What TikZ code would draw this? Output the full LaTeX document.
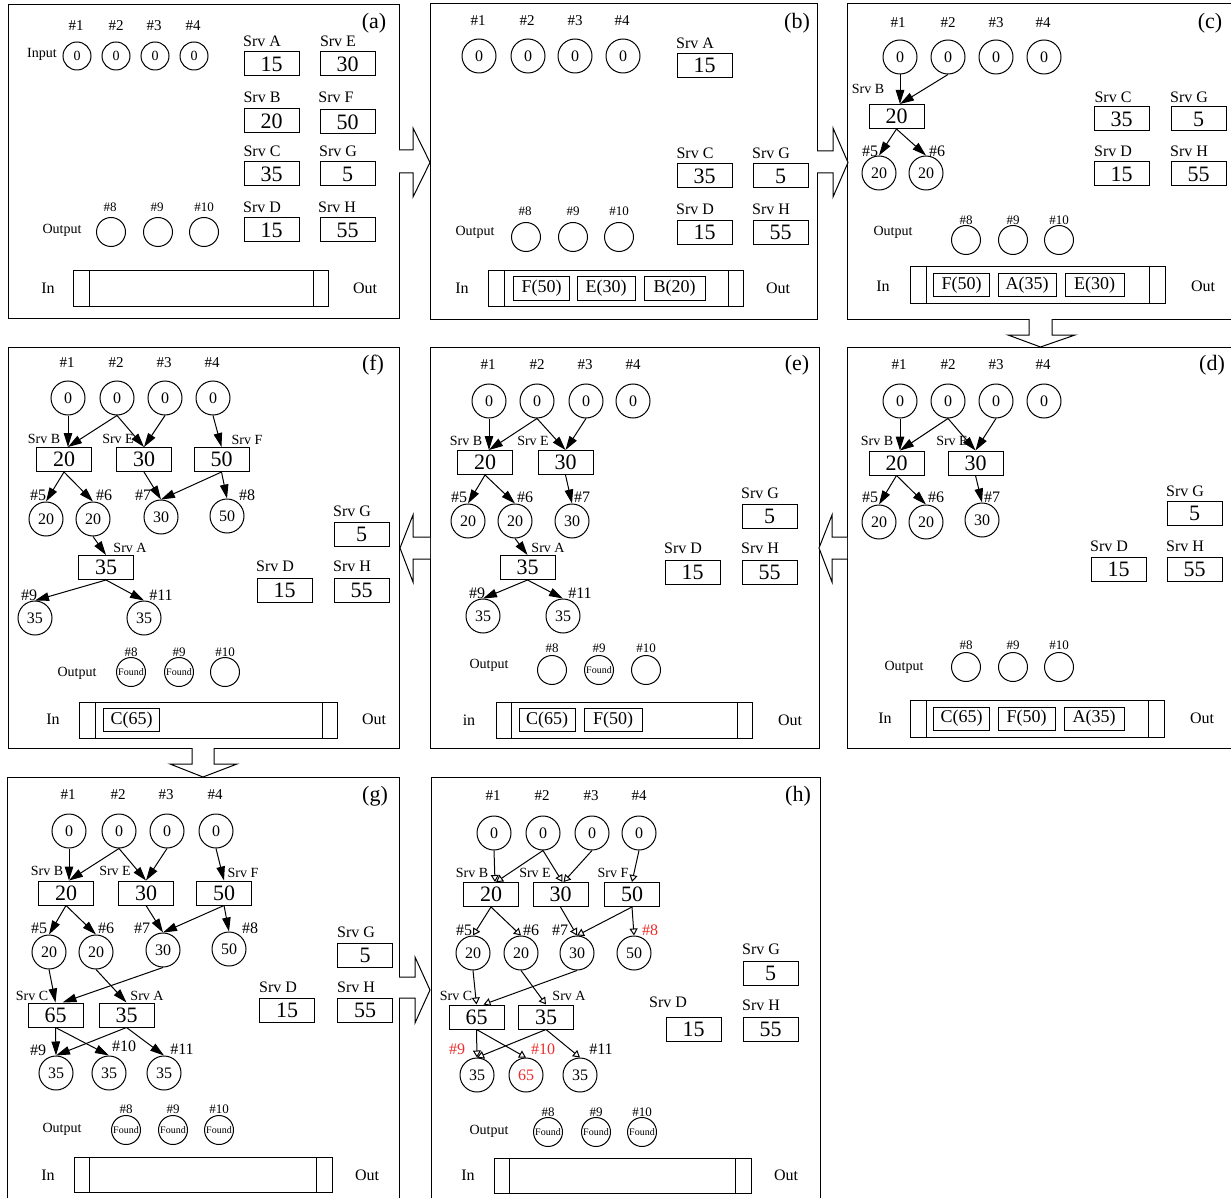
\documentclass[tikz,border=0pt]{standalone}
\usepackage{fontspec}
\setmainfont{Liberation Serif}
\usetikzlibrary{arrows.meta}
\newcommand{\fs}[1]{\fontsize{#1}{#1}\selectfont}
\definecolor{hitred}{HTML}{EE2C2C}

\begin{document}
\begin{tikzpicture}[x=1pt, y=-1pt,
    frame/.style={draw, line width=1pt},
    srv/.style={draw, line width=1pt, minimum width=55pt, minimum height=24pt, inner sep=0pt, font=\fs{22}},
    job/.style={draw, line width=1pt, minimum width=56pt, minimum height=23pt, inner sep=0pt, font=\fs{18}},
    inc/.style={draw, circle, line width=1pt, minimum size=34pt, inner sep=0pt, font=\fs{16}},
    smc/.style={draw, circle, line width=1pt, minimum size=28pt, inner sep=0pt, font=\fs{14}},
    outc/.style={draw, circle, line width=1pt, minimum size=29pt, inner sep=0pt, font=\fs{10}},
    num/.style={inner sep=0pt, font=\fs{15}},
    tnum/.style={inner sep=0pt, font=\fs{16}},
    onum/.style={inner sep=0pt, font=\fs{13}},
    srvl/.style={inner sep=0pt, font=\fs{16}},
    trl/.style={inner sep=0pt, font=\fs{14}},
    txt/.style={inner sep=0pt, font=\fs{14}},
    io/.style={inner sep=0pt, font=\fs{16}},
    tag/.style={inner sep=0pt, font=\fs{22}},
    arr/.style={-{Triangle[length=14pt, width=8.5pt]}, line width=1pt},
    harr/.style={-{Triangle[open, length=7pt, width=8pt]}, line width=1pt},
    bigarr/.style={draw, line width=1pt, fill=white}
  ]
    \fill[white] (0,0) rectangle (1231,1198);
    \useasboundingbox (0,0) rectangle (1231,1198);

    % (a) initial state
    \draw[frame] (8,5) rectangle (399,318);
    \node[tag] (atag) at (374,23) {(a)};
    \node[txt] (aInput) at (42,54) {Input};
    \node[num] (a1l) at (76,26) {\#1};  \node[num] (a2l) at (116,26) {\#2};
    \node[num] (a3l) at (154,26) {\#3}; \node[num] (a4l) at (193,26) {\#4};
    \node[smc] (a1) at (77,56) {0};  \node[smc] (a2) at (116,56) {0};
    \node[smc] (a3) at (155,56) {0}; \node[smc] (a4) at (194,56) {0};
    \node[srvl] (aAl) at (262,41) {Srv A};  \node[srv] (aA) at (271.5,64) {15};
    \node[srvl] (aEl) at (338,41) {Srv E};  \node[srv] (aE) at (347.5,64) {30};
    \node[srvl] (aBl) at (262,97) {Srv B};  \node[srv] (aB) at (271.5,121) {20};
    \node[srvl] (aFl) at (336,97) {Srv F};  \node[srv] (aF) at (347.5,122) {50};
    \node[srvl] (aCl) at (262,151) {Srv C}; \node[srv] (aC) at (271.5,174) {35};
    \node[srvl] (aGl) at (338,151) {Srv G}; \node[srv] (aG) at (347.5,174) {5};
    \node[srvl] (aDl) at (262,207) {Srv D}; \node[srv] (aD) at (271.5,230) {15};
    \node[srvl] (aHl) at (337,207) {Srv H}; \node[srv] (aH) at (347.5,230) {55};
    \node[txt] (aOutput) at (62,230) {Output};
    \node[onum] (a8l) at (110,207) {\#8};   \node[outc] (a8) at (111,232) {};
    \node[onum] (a9l) at (157,207) {\#9};   \node[outc] (a9) at (158,232) {};
    \node[onum] (a10l) at (204,207) {\#10}; \node[outc] (a10) at (204,232) {};
    \draw[frame] (73,271) rectangle (328,306);
    \draw[frame] (89,271) -- (89,306); \draw[frame] (313,271) -- (313,306);
    \node[io] (aIn) at (48,288) {In}; \node[io] (aOut) at (365,288) {Out};

    % (b)
    \draw[frame] (430,4) rectangle (817,319);
    \node[tag] (btag) at (797,23) {(b)};
    \node[num] (b1l) at (478,21) {\#1}; \node[num] (b2l) at (527,21) {\#2};
    \node[num] (b3l) at (575,21) {\#3}; \node[num] (b4l) at (622,21) {\#4};
    \node[inc] (b1) at (479,56) {0}; \node[inc] (b2) at (528,56) {0};
    \node[inc] (b3) at (575,56) {0}; \node[inc] (b4) at (623,56) {0};
    \node[srvl] (bAl) at (695,43) {Srv A};  \node[srv] (bA) at (704.5,65.5) {15};
    \node[srvl] (bCl) at (695,153) {Srv C}; \node[srv] (bC) at (704.5,176) {35};
    \node[srvl] (bGl) at (771,153) {Srv G}; \node[srv] (bG) at (780.5,176) {5};
    \node[srvl] (bDl) at (695,209) {Srv D}; \node[srv] (bD) at (704.5,232.5) {15};
    \node[srvl] (bHl) at (771,209) {Srv H}; \node[srv] (bH) at (780.5,232.5) {55};
    \node[txt] (bOutput) at (475,232) {Output};
    \node[onum] (b8l) at (525,211) {\#8};   \node[outc] (b8) at (526,237) {};
    \node[onum] (b9l) at (573,211) {\#9};   \node[outc] (b9) at (573,237) {};
    \node[onum] (b10l) at (619,211) {\#10}; \node[outc] (b10) at (619,237) {};
    \draw[frame] (488,271) rectangle (743,306);
    \draw[frame] (504,271) -- (504,306); \draw[frame] (728,271) -- (728,306);
    \node[job] (bqF) at (541.5,288.5) {F(50)};
    \node[job, minimum width=58pt] (bqE) at (606,288.5) {E(30)};
    \node[job, minimum width=61pt] (bqB) at (674.5,288.5) {B(20)};
    \node[io] (bIn) at (462,288) {In}; \node[io] (bOut) at (778,288) {Out};

    % (c)
    \draw[frame] (847,4) rectangle (1233,319);
    \node[tag] (ctag) at (1210,23) {(c)};
    \node[num] (c1l) at (898,23) {\#1}; \node[num] (c2l) at (948,23) {\#2};
    \node[num] (c3l) at (996,23) {\#3}; \node[num] (c4l) at (1043,23) {\#4};
    \node[inc] (c1) at (900,57) {0}; \node[inc] (c2) at (948,57) {0};
    \node[inc] (c3) at (996,57) {0}; \node[inc] (c4) at (1044,57) {0};
    \node[trl] (cBl) at (868,89) {Srv B}; \node[srv] (cB) at (896.5,116.5) {20};
    \node[tnum] (c5l) at (870,151) {\#5}; \node[inc] (c5) at (879,173) {20};
    \node[tnum] (c6l) at (937,151) {\#6}; \node[inc] (c6) at (926,173) {20};
    \draw[arr] (c1.south) -- (c1 |- cB.north);
    \draw[arr] (c2.south) -- (c1 |- cB.north);
    \draw[arr] (cB.south) -- (c5.north);
    \draw[arr] (cB.south) -- (c6.north);
    \node[srvl] (cCl) at (1113,97) {Srv C};  \node[srv] (cC) at (1121.5,119) {35};
    \node[srvl] (cGl) at (1189,97) {Srv G};  \node[srv] (cG) at (1198.5,119) {5};
    \node[srvl] (cDl) at (1113,151) {Srv D}; \node[srv] (cD) at (1121.5,174) {15};
    \node[srvl] (cHl) at (1189,151) {Srv H}; \node[srv] (cH) at (1198.5,174) {55};
    \node[txt] (cOutput) at (893,232) {Output};
    \node[onum] (c8l) at (966,220) {\#8};    \node[outc] (c8) at (966,240) {};
    \node[onum] (c9l) at (1013,220) {\#9};   \node[outc] (c9) at (1013,240) {};
    \node[onum] (c10l) at (1059,220) {\#10}; \node[outc] (c10) at (1059,240) {};
    \draw[frame] (910,267) rectangle (1165,303);
    \draw[frame] (926,267) -- (926,303); \draw[frame] (1149,267) -- (1149,303);
    \node[job] (cqF) at (961.5,285) {F(50)};
    \node[job, minimum width=58pt] (cqA) at (1027,285) {A(35)};
    \node[job, minimum width=59pt] (cqE) at (1094.5,285) {E(30)};
    \node[io] (cIn) at (883,286) {In}; \node[io] (cOut) at (1203,286) {Out};

    % (d)
    \draw[frame] (847,347) rectangle (1233,748);
    \node[tag] (dtag) at (1212,365) {(d)};
    \node[num] (d1l) at (899,365) {\#1}; \node[num] (d2l) at (948,365) {\#2};
    \node[num] (d3l) at (996,365) {\#3}; \node[num] (d4l) at (1043,365) {\#4};
    \node[inc] (d1) at (900,401) {0}; \node[inc] (d2) at (948,401) {0};
    \node[inc] (d3) at (996,401) {0}; \node[inc] (d4) at (1044,401) {0};
    \node[trl] (dBl) at (877,441) {Srv B}; \node[srv] (dB) at (896.5,463) {20};
    \node[trl] (dEl) at (952,441) {Srv E}; \node[srv] (dE) at (975.5,463) {30};
    \node[tnum] (d5l) at (870,497) {\#5}; \node[inc] (d5) at (879,522) {20};
    \node[tnum] (d6l) at (936,497) {\#6}; \node[inc] (d6) at (926,522) {20};
    \node[tnum] (d7l) at (992,497) {\#7}; \node[inc] (d7) at (982,520) {30};
    \draw[arr] (d1.south) -- (d1 |- dB.north);
    \draw[arr] (d2.south) -- (d1 |- dB.north);
    \draw[arr] (d2.south) -- (dE.north);
    \draw[arr] (d3.south) -- (dE.north);
    \draw[arr] (dB.south) -- (d5.north);
    \draw[arr] (dB.south) -- (d6.north);
    \draw[arr] (dE.south) -- (d7.north);
    \node[srvl] (dGl) at (1185,491) {Srv G}; \node[srv] (dG) at (1194.5,513) {5};
    \node[srvl] (dDl) at (1109,546) {Srv D}; \node[srv] (dD) at (1118.5,569) {15};
    \node[srvl] (dHl) at (1185,546) {Srv H}; \node[srv] (dH) at (1194.5,569) {55};
    \node[txt] (dOutput) at (904,667) {Output};
    \node[onum] (d8l) at (966,645) {\#8};    \node[outc] (d8) at (966,667) {};
    \node[onum] (d9l) at (1013,645) {\#9};   \node[outc] (d9) at (1013,667) {};
    \node[onum] (d10l) at (1059,645) {\#10}; \node[outc] (d10) at (1059,667) {};
    \draw[frame] (910,700) rectangle (1164,737);
    \draw[frame] (926,700) -- (926,737); \draw[frame] (1148,700) -- (1148,737);
    \node[job] (dqC) at (961.5,718.5) {C(65)};
    \node[job, minimum width=57pt] (dqF) at (1026.5,718.5) {F(50)};
    \node[job, minimum width=60pt] (dqA) at (1094,718.5) {A(35)};
    \node[io] (dIn) at (885,718) {In}; \node[io] (dOut) at (1202,718) {Out};

    % (e)
    \draw[frame] (430,347) rectangle (819,748);
    \node[tag] (etag) at (797,365) {(e)};
    \node[num] (e1l) at (488,365) {\#1}; \node[num] (e2l) at (537,365) {\#2};
    \node[num] (e3l) at (585,365) {\#3}; \node[num] (e4l) at (633,365) {\#4};
    \node[inc] (e1) at (489,401) {0}; \node[inc] (e2) at (537,401) {0};
    \node[inc] (e3) at (586,401) {0}; \node[inc] (e4) at (633,401) {0};
    \node[trl] (eBl) at (466,441) {Srv B}; \node[srv] (eB) at (485,462.5) {20};
    \node[trl] (eEl) at (533,441) {Srv E}; \node[srv] (eE) at (565.5,462.5) {30};
    \node[tnum] (e5l) at (459,497) {\#5}; \node[inc] (e5) at (468,521) {20};
    \node[tnum] (e6l) at (525,497) {\#6}; \node[inc] (e6) at (515,521) {20};
    \node[tnum] (e7l) at (582,497) {\#7}; \node[inc] (e7) at (572,521) {30};
    \node[trl] (eAl) at (548,548) {Srv A}; \node[srv] (eA) at (527.5,567.5) {35};
    \node[tnum] (e9l) at (477,593) {\#9};   \node[inc] (e9) at (483,616) {35};
    \node[tnum] (e11l) at (580,593) {\#11}; \node[inc] (e11) at (563,616) {35};
    \draw[arr] (e1.south) -- (e1 |- eB.north);
    \draw[arr] (e2.south) -- (e1 |- eB.north);
    \draw[arr] (e2.south) -- (eE.north);
    \draw[arr] (e3.south) -- (eE.north);
    \draw[arr] (eB.south) -- (e5.north);
    \draw[arr] (eB.south) -- (e6.north);
    \draw[arr] (eE.south) -- (e7.north);
    \draw[arr] (e6.south) -- (eA.north);
    \draw[arr] (eA.south) -- (e9.north);
    \draw[arr] (eA.south) -- (e11.north);
    \node[srvl] (eGl) at (760,493) {Srv G}; \node[srv] (eG) at (769.5,516) {5};
    \node[srvl] (eDl) at (683,548) {Srv D}; \node[srv] (eD) at (692.5,572) {15};
    \node[srvl] (eHl) at (760,548) {Srv H}; \node[srv] (eH) at (769.5,572) {55};
    \node[txt] (eOutput) at (489,665) {Output};
    \node[onum] (e8l) at (552,648) {\#8};   \node[outc] (e8) at (552,670) {};
    \node[onum] (e9ol) at (599,648) {\#9};  \node[outc] (e9o) at (599,670) {Found};
    \node[onum] (e10l) at (646,648) {\#10}; \node[outc] (e10) at (646,670) {};
    \draw[frame] (496,702) rectangle (752,738);
    \draw[frame] (511,702) -- (511,738); \draw[frame] (737,702) -- (737,738);
    \node[job] (eqC) at (547,720) {C(65)};
    \node[job, minimum width=58pt] (eqF) at (613,720) {F(50)};
    \node[io] (eIn) at (469,720) {in}; \node[io] (eOut) at (790,720) {Out};

    % (f)
    \draw[frame] (8,347) rectangle (399,748);
    \node[tag] (ftag) at (373,365) {(f)};
    \node[num] (f1l) at (67,363) {\#1};  \node[num] (f2l) at (116,363) {\#2};
    \node[num] (f3l) at (164,363) {\#3}; \node[num] (f4l) at (212,363) {\#4};
    \node[inc] (f1) at (68,398) {0};  \node[inc] (f2) at (117,398) {0};
    \node[inc] (f3) at (165,398) {0}; \node[inc] (f4) at (213,398) {0};
    \node[trl] (fBl) at (44,439) {Srv B};  \node[srv] (fB) at (64,459.5) {20};
    \node[trl] (fEl) at (118,439) {Srv E}; \node[srv] (fE) at (144,459.5) {30};
    \node[trl] (fFl) at (247,440) {Srv F}; \node[srv] (fF) at (221.5,459.5) {50};
    \node[tnum] (f5l) at (38,495) {\#5};  \node[inc] (f5) at (46,519) {20};
    \node[tnum] (f6l) at (104,495) {\#6}; \node[inc] (f6) at (93,519) {20};
    \node[tnum] (f7l) at (143,495) {\#7}; \node[inc] (f7) at (161,517) {30};
    \node[tnum] (f8l) at (247,495) {\#8}; \node[inc] (f8) at (227,516) {50};
    \node[trl] (fAl) at (130,548) {Srv A}; \node[srv] (fA) at (106,567.5) {35};
    \node[tnum] (f9l) at (29,595) {\#9};   \node[inc] (f9) at (35,618) {35};
    \node[tnum] (f11l) at (161,595) {\#11}; \node[inc] (f11) at (144,618) {35};
    \draw[arr] (f1.south) -- (f1 |- fB.north);
    \draw[arr] (f2.south) -- (f1 |- fB.north);
    \draw[arr] (f2.south) -- (fE.north);
    \draw[arr] (f3.south) -- (fE.north);
    \draw[arr] (f4.south) -- (fF.north);
    \draw[arr] (fB.south) -- (f5.north);
    \draw[arr] (fB.south) -- (f6.north);
    \draw[arr] (fE.south) -- (f7.north);
    \draw[arr] (fF.south) -- (f7.north);
    \draw[arr] (fF.south) -- (f8.north);
    \draw[arr] (f6.south) -- (fA.north);
    \draw[arr] (fA.south) -- (f9.north);
    \draw[arr] (fA.south) -- (f11.north);
    \node[srvl] (fGl) at (352,511) {Srv G}; \node[srv] (fG) at (361.5,534) {5};
    \node[srvl] (fDl) at (275,566) {Srv D}; \node[srv] (fD) at (284.5,590) {15};
    \node[srvl] (fHl) at (352,566) {Srv H}; \node[srv] (fH) at (361.5,590) {55};
    \node[txt] (fOutput) at (77,673) {Output};
    \node[onum] (f8ol) at (131,652) {\#8};  \node[outc] (f8o) at (131,672) {Found};
    \node[onum] (f9ol) at (179,652) {\#9};  \node[outc] (f9o) at (179,672) {Found};
    \node[onum] (f10l) at (225,652) {\#10}; \node[outc] (f10) at (225,672) {};
    \draw[frame] (79,702) rectangle (337,738);
    \draw[frame] (95,702) -- (95,738); \draw[frame] (322,702) -- (322,738);
    \node[job] (fqC) at (131.5,720) {C(65)};
    \node[io] (fIn) at (53,719) {In}; \node[io] (fOut) at (374,719) {Out};

    % (g)
    \draw[frame] (7,777) rectangle (399,1202);
    \node[tag] (gtag) at (375,796) {(g)};
    \node[num] (g1l) at (68,795) {\#1};  \node[num] (g2l) at (118,795) {\#2};
    \node[num] (g3l) at (166,795) {\#3}; \node[num] (g4l) at (215,795) {\#4};
    \node[inc] (g1) at (69,831) {0};  \node[inc] (g2) at (119,831) {0};
    \node[inc] (g3) at (167,831) {0}; \node[inc] (g4) at (216,831) {0};
    \node[trl] (gBl) at (47,871) {Srv B};  \node[srv] (gB) at (66,893) {20};
    \node[trl] (gEl) at (115,871) {Srv E}; \node[srv] (gE) at (146,893) {30};
    \node[trl] (gFl) at (243,873) {Srv F}; \node[srv] (gF) at (224,893) {50};
    \node[tnum] (g5l) at (39,928) {\#5};  \node[inc] (g5) at (49,952) {20};
    \node[tnum] (g6l) at (106,928) {\#6}; \node[inc] (g6) at (96,952) {20};
    \node[tnum] (g7l) at (142,928) {\#7}; \node[inc] (g7) at (163,950) {30};
    \node[tnum] (g8l) at (250,928) {\#8}; \node[inc] (g8) at (229,949) {50};
    \node[trl] (gCl) at (32,996) {Srv C};  \node[srv] (gC) at (55.5,1015) {65};
    \node[trl] (gAl) at (147,996) {Srv A}; \node[srv] (gA) at (126.5,1015) {35};
    \node[tnum] (g9l) at (38,1050) {\#9};   \node[inc] (g9) at (56,1073) {35};
    \node[tnum] (g10l) at (124,1046) {\#10}; \node[inc] (g10) at (109,1073) {35};
    \node[tnum] (g11l) at (182,1049) {\#11}; \node[inc] (g11) at (164,1073) {35};
    \draw[arr] (g1.south) -- (g1 |- gB.north);
    \draw[arr] (g2.south) -- (g1 |- gB.north);
    \draw[arr] (g2.south) -- (gE.north);
    \draw[arr] (g3.south) -- (gE.north);
    \draw[arr] (g4.south) -- (gF.north);
    \draw[arr] (gB.south) -- (g5.north);
    \draw[arr] (gB.south) -- (g6.north);
    \draw[arr] (gE.south) -- (g7.north);
    \draw[arr] (gF.south) -- (g7.north);
    \draw[arr] (gF.south) -- (g8.north);
    \draw[arr] (g5.south) -- (gC.north);
    \draw[arr] (g7.south) -- ([xshift=7pt]gC.north);
    \draw[arr] (g6.south) -- (gA.north);
    \draw[arr] (gC.south) -- (g9.north);
    \draw[arr] (gC.south) -- (g10.north);
    \draw[arr] (gA.south) -- (g9.north);
    \draw[arr] (gA.south) -- (g11.north);
    \node[srvl] (gGl) at (356,932) {Srv G}; \node[srv] (gG) at (365,955) {5};
    \node[srvl] (gDl) at (278,987) {Srv D}; \node[srv] (gD) at (287,1010.5) {15};
    \node[srvl] (gHl) at (356,987) {Srv H}; \node[srv] (gH) at (365,1010.5) {55};
    \node[txt] (gOutput) at (62,1129) {Output};
    \node[onum] (g8ol) at (126,1109) {\#8};   \node[outc] (g8o) at (126,1130) {Found};
    \node[onum] (g9ol) at (173,1109) {\#9};   \node[outc] (g9o) at (173,1130) {Found};
    \node[onum] (g10ol) at (219,1109) {\#10}; \node[outc] (g10o) at (219,1130) {Found};
    \draw[frame] (74,1157) rectangle (332,1192);
    \draw[frame] (89,1157) -- (89,1192); \draw[frame] (316,1157) -- (316,1192);
    \node[io] (gIn) at (48,1175) {In}; \node[io] (gOut) at (367,1175) {Out};

    % (h) result
    \draw[frame] (431,777) rectangle (820,1202);
    \node[tag] (htag) at (798,796) {(h)};
    \node[num] (h1l) at (493,796) {\#1}; \node[num] (h2l) at (542,796) {\#2};
    \node[num] (h3l) at (591,796) {\#3}; \node[num] (h4l) at (639,796) {\#4};
    \node[inc] (h1) at (494,833) {0}; \node[inc] (h2) at (543,833) {0};
    \node[inc] (h3) at (592,833) {0}; \node[inc] (h4) at (639,833) {0};
    \node[trl] (hBl) at (472,873) {Srv B}; \node[srv] (hB) at (491,894.5) {20};
    \node[trl] (hEl) at (535,873) {Srv E}; \node[srv] (hE) at (560.5,894.5) {30};
    \node[trl] (hFl) at (613,873) {Srv F}; \node[srv] (hF) at (632,894.5) {50};
    \node[tnum] (h5l) at (464,930) {\#5}; \node[inc] (h5) at (473,953) {20};
    \node[tnum] (h6l) at (531,930) {\#6}; \node[inc] (h6) at (521,953) {20};
    \node[tnum] (h7l) at (560,930) {\#7}; \node[inc] (h7) at (577,953) {30};
    \node[tnum, text=hitred] (h8l) at (650,930) {\#8}; \node[inc] (h8) at (634,953) {50};
    \node[trl] (hCl) at (456,996) {Srv C}; \node[srv] (hC) at (476.5,1017) {65};
    \node[trl] (hAl) at (569,996) {Srv A}; \node[srv] (hA) at (546,1017) {35};
    \node[tnum, text=hitred] (h9l) at (457,1049) {\#9};   \node[inc] (h9) at (477,1075) {35};
    \node[tnum, text=hitred] (h10l) at (543,1049) {\#10}; \node[inc, text=hitred] (h10) at (526,1075) {65};
    \node[tnum] (h11l) at (601,1049) {\#11}; \node[inc] (h11) at (580,1075) {35};
    \draw[harr] (h1.south) -- ([xshift=4pt]hB.north);
    \draw[harr] (h2.south) -- ([xshift=5pt]hB.north);
    \draw[harr] (h2.south) -- ([xshift=2pt]hE.north);
    \draw[harr] (h3.south) -- ([xshift=3pt]hE.north);
    \draw[harr] (h4.south) -- (hF.north);
    \draw[harr] (hB.south) -- (h5.north);
    \draw[harr] (hB.south) -- (h6.north);
    \draw[harr] (hE.south) -- (h7.north);
    \draw[harr] (hF.south) -- (h7.north);
    \draw[harr] (hF.south) -- (h8.north);
    \draw[harr] (h5.south) -- (hC.north);
    \draw[harr] (h7.south) -- ([xshift=7pt]hC.north);
    \draw[harr] (h6.south) -- (hA.north);
    \draw[harr] (hC.south) -- (h9.north);
    \draw[harr] (hC.south) -- (h10.north);
    \draw[harr] (hA.south) -- (h9.north);
    \draw[harr] (hA.south) -- (h11.north);
    \node[srvl] (hGl) at (761,949) {Srv G};  \node[srv] (hG) at (770.5,973) {5};
    \node[srvl] (hDl) at (668,1002) {Srv D}; \node[srv] (hD) at (693.5,1029) {15};
    \node[srvl] (hHl) at (761,1005) {Srv H}; \node[srv] (hH) at (770.5,1029) {55};
    \node[txt] (hOutput) at (489,1131) {Output};
    \node[onum] (h8ol) at (548,1112) {\#8};   \node[outc] (h8o) at (548,1132) {Found};
    \node[onum] (h9ol) at (596,1112) {\#9};   \node[outc] (h9o) at (596,1132) {Found};
    \node[onum] (h10ol) at (642,1112) {\#10}; \node[outc] (h10o) at (642,1132) {Found};
    \draw[frame] (494,1158) rectangle (751,1193);
    \draw[frame] (509,1158) -- (509,1193); \draw[frame] (735,1158) -- (735,1193);
    \node[io] (hIn) at (468,1175) {In}; \node[io] (hOut) at (786,1175) {Out};

    % steps between the panels
    \draw[bigarr] (399,150) -- (413,150) -- (413,128) -- (430,162.5) -- (413,197) -- (413,173) -- (399,173);
    \draw[bigarr] (817,151) -- (833,151) -- (833,128) -- (848,162.5) -- (833,197) -- (833,173) -- (817,173);
    \draw[bigarr] (1029,319) -- (1029,335) -- (1008,335) -- (1040.5,347) -- (1075,335) -- (1052,335) -- (1052,319);
    \draw[bigarr] (847,537) -- (832,537) -- (832,515) -- (819,548) -- (832,582) -- (832,559) -- (847,559);
    \draw[bigarr] (430,537) -- (413,537) -- (413,515) -- (400,548) -- (413,582) -- (413,559) -- (430,559);
    \draw[bigarr] (192,748) -- (192,764) -- (170,764) -- (203,777) -- (237,764) -- (214,764) -- (214,748);
    \draw[bigarr] (399,977) -- (415,977) -- (415,957) -- (430,990) -- (415,1023) -- (415,998) -- (399,998);
  \end{tikzpicture}
\end{document}
